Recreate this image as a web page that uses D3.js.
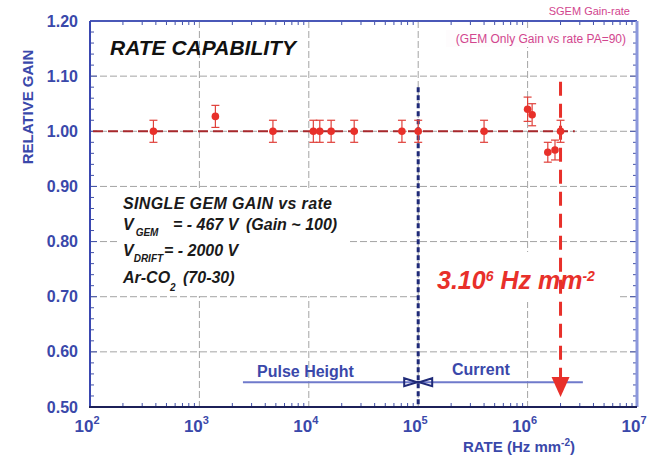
<!DOCTYPE html>
<html>
<head>
<meta charset="utf-8">
<script src="https://cdn.jsdelivr.net/npm/d3@7"></script>
<style>
  html, body { margin: 0; padding: 0; background: #fff; }
  svg { display: block; font-family: "Liberation Sans", Arial, sans-serif; }
</style>
</head>
<body>
<svg id="chart" width="648" height="460"></svg>
<script>
// Measured single-GEM relative gain versus particle rate
const rates  = [380, 1400, 4700, 11000, 12600, 16000, 26000, 71000, 100000, 400000, 1.0e6, 1.1e6, 1.53e6, 1.78e6, 2.0e6];
const gains  = [1.00, 1.027, 1.00, 1.00, 1.00, 1.00, 1.00, 1.00, 1.00, 1.00, 1.04, 1.03, 0.962, 0.966, 1.00];
const errors = [0.02, 0.02, 0.02, 0.02, 0.02, 0.02, 0.02, 0.02, 0.02, 0.02, 0.022, 0.02, 0.018, 0.018, 0.02];

// Axis ticks
const yTicks = [0.5, 0.6, 0.7, 0.8, 0.9, 1.0, 1.1, 1.2];
const xExponents = [2, 3, 4, 5, 6, 7];

// Reference levels and annotations
const unityGain = 1.00;
const unityRange = [1e2, 2.7e6];
const methodBoundary = 1e5;          // pulse height / current crossover
const rateLimit = 2e6;               // rate capability marker
const rateLimitSpan = [1.09, 0.518];
const boundarySpan = [1.08, 0.5];
const methodLineGain = 0.545;
const methodLineRange = [2.5e3, 3.2e6];

const svg = d3.select("#chart");
const x = d3.scaleLog().domain([1e2, 1e7]).range([90, 637]);
const y = d3.scaleLinear().domain([0.5, 1.2]).range([407, 21]);

const blue = "#3a48aa", navy = "#1f2a78", red = "#e8302a", pink = "#d2458e";

// grid
const grid = svg.append("g").attr("stroke", "#a4a4a4").attr("stroke-width", 1).attr("stroke-dasharray", "7,3");
yTicks.filter(v => v > 0.5 && v < 1.2).forEach(v => {
  grid.append("line").attr("x1", x.range()[0]).attr("x2", x.range()[1]).attr("y1", y(v)).attr("y2", y(v));
});
xExponents.filter(e => e > 2 && e < 7).forEach(e => {
  grid.append("line").attr("x1", x(10 ** e)).attr("x2", x(10 ** e)).attr("y1", y.range()[1]).attr("y2", y.range()[0]);
});

// minor ticks on all four sides
const minorX = [];
for (let e = 2; e < 7; e++) for (let m = 2; m <= 9; m++) minorX.push(m * 10 ** e);
const minorY = d3.range(0.52, 1.2, 0.02).filter(v => Math.abs(v * 10 - Math.round(v * 10)) > 1e-6);
const ticks = svg.append("g").attr("stroke", "#4050a8").attr("stroke-width", 1);
minorX.forEach(v => {
  ticks.append("line").attr("x1", x(v)).attr("x2", x(v)).attr("y1", y(1.2)).attr("y2", y(1.2) + 4);
  ticks.append("line").attr("x1", x(v)).attr("x2", x(v)).attr("y1", y(0.5)).attr("y2", y(0.5) - 4);
});
minorY.forEach(v => {
  ticks.append("line").attr("x1", x(1e2)).attr("x2", x(1e2) + 4).attr("y1", y(v)).attr("y2", y(v));
  ticks.append("line").attr("x1", x(1e7)).attr("x2", x(1e7) - 4).attr("y1", y(v)).attr("y2", y(v));
});
yTicks.forEach(v => {
  ticks.append("line").attr("x1", x(1e2)).attr("x2", x(1e2) + 7).attr("y1", y(v)).attr("y2", y(v));
  ticks.append("line").attr("x1", x(1e7)).attr("x2", x(1e7) - 7).attr("y1", y(v)).attr("y2", y(v));
});

// frame
svg.append("line").attr("x1", x(1e2)).attr("x2", x(1e7)).attr("y1", y(1.2)).attr("y2", y(1.2)).attr("stroke", "#4a58b8").attr("stroke-width", 2);
svg.append("line").attr("x1", x(1e7)).attr("x2", x(1e7)).attr("y1", y(1.2)).attr("y2", y(0.5)).attr("stroke", "#8c98dc").attr("stroke-width", 3);
svg.append("line").attr("x1", x(1e2)).attr("x2", x(1e2)).attr("y1", y(1.2)).attr("y2", y(0.5)).attr("stroke", "#3a48b0").attr("stroke-width", 2);
svg.append("line").attr("x1", x(1e2) - 1).attr("x2", x(1e7)).attr("y1", y(0.5)).attr("y2", y(0.5)).attr("stroke", "#1c2058").attr("stroke-width", 2);

// y tick labels
svg.append("g").selectAll("text").data(yTicks).join("text")
  .attr("x", 78).attr("y", d => y(d) + 5.5)
  .attr("text-anchor", "end").attr("font-size", 16).attr("font-weight", "bold").attr("fill", blue)
  .text(d3.format(".2f"));

// x tick labels: powers of ten
const xl = svg.append("g").attr("font-weight", "bold").attr("fill", blue);
xExponents.forEach(e => {
  const t = xl.append("text").attr("x", x(10 ** e) - 3).attr("y", 432).attr("text-anchor", "middle").attr("font-size", 17);
  t.append("tspan").text("10");
  t.append("tspan").attr("font-size", 11).attr("dy", -8).text(e);
});

// axis titles
const xt = svg.append("text").attr("x", 519).attr("y", 452).attr("text-anchor", "middle")
  .attr("font-size", 15).attr("font-weight", "bold").attr("fill", blue);
xt.append("tspan").text("RATE (Hz mm");
xt.append("tspan").attr("font-size", 10).attr("dy", -6).text("-2");
xt.append("tspan").attr("dy", 6).text(")");
svg.append("text").attr("transform", "translate(33,107) rotate(-90)").attr("text-anchor", "middle")
  .attr("font-size", 15).attr("font-weight", "bold").attr("fill", blue).text("RELATIVE GAIN");

// title
svg.append("text").attr("x", 110).attr("y", 55).attr("font-size", 21).attr("font-weight", "bold")
  .attr("font-style", "italic").attr("fill", "#111").text("RATE CAPABILITY");

// top-right labels
svg.append("text").attr("x", 630).attr("y", 15).attr("text-anchor", "end").attr("font-size", 11).attr("fill", pink).text("SGEM Gain-rate");
svg.append("rect").attr("x", 446).attr("y", 30).attr("width", 186).attr("height", 17).attr("fill", "#fefcfd");
svg.append("text").attr("x", 626).attr("y", 43).attr("text-anchor", "end").attr("font-size", 12).attr("fill", pink).text("(GEM Only Gain vs rate PA=90)");

// conditions box
svg.append("rect").attr("x", 120).attr("y", 190).attr("width", 228).attr("height", 106).attr("fill", "#fff");
const cond = svg.append("g").attr("font-size", 16).attr("font-weight", "bold").attr("font-style", "italic").attr("fill", "#1a1a1a");
cond.append("text").attr("x", 123).attr("y", 209).attr("textLength", 209).text("SINGLE GEM GAIN vs rate");
let t = cond.append("text").attr("x", 123).attr("y", 230);
t.append("tspan").text("V");
t.append("tspan").attr("font-size", 10).attr("dy", 6).attr("dx", 2).text("GEM");
t.append("tspan").attr("x", 173).attr("dy", -6).text("= - 467 V");
t.append("tspan").attr("x", 246).text("(Gain ~ 100)");
t = cond.append("text").attr("x", 123).attr("y", 256);
t.append("tspan").text("V");
t.append("tspan").attr("font-size", 10).attr("dy", 6).text("DRIFT");
t.append("tspan").attr("x", 164).attr("dy", -6).text("= - 2000 V");
t = cond.append("text").attr("x", 123).attr("y", 283);
t.append("tspan").text("Ar-CO");
t.append("tspan").attr("font-size", 10).attr("dy", 8).text("2");
t.append("tspan").attr("x", 183).attr("dy", -8).text("(70-30)");

// rate capability label
svg.append("rect").attr("x", 420).attr("y", 252).attr("width", 198).attr("height", 50).attr("fill", "#fff");
const rl = svg.append("text").attr("x", 437).attr("y", 289).attr("font-size", 25).attr("font-weight", "bold")
  .attr("font-style", "italic").attr("fill", red);
rl.append("tspan").text("3.10");
rl.append("tspan").attr("font-size", 14).attr("dy", -8).text("6");
rl.append("tspan").attr("dy", 8).text(" Hz mm");
rl.append("tspan").attr("font-size", 14).attr("dy", -8).text("-2");

// measurement method line
svg.append("line").attr("x1", x(methodLineRange[0])).attr("x2", x(methodLineRange[1]))
  .attr("y1", y(methodLineGain)).attr("y2", y(methodLineGain)).attr("stroke", "#6f7acb").attr("stroke-width", 2);
svg.append("text").attr("x", 257).attr("y", 377).attr("font-size", 16).attr("font-weight", "bold").attr("fill", blue).text("Pulse Height");
svg.append("text").attr("x", 452).attr("y", 375).attr("font-size", 16).attr("font-weight", "bold").attr("fill", blue).text("Current");

// boundary between methods
const xb = x(methodBoundary), ym = y(methodLineGain);
svg.append("line").attr("x1", xb).attr("x2", xb).attr("y1", y(boundarySpan[0])).attr("y2", y(boundarySpan[1]))
  .attr("stroke", navy).attr("stroke-width", 3).attr("stroke-dasharray", "5,3");
svg.append("path").attr("d", `M${xb - 14},${ym - 4}L${xb - 1},${ym}L${xb - 14},${ym + 4}Z M${xb + 14},${ym - 4}L${xb + 1},${ym}L${xb + 14},${ym + 4}Z`)
  .attr("fill", "none").attr("stroke", navy).attr("stroke-width", 2);

// unity-gain reference
svg.append("line").attr("x1", x(unityRange[0]) + 3).attr("x2", x(unityRange[1]))
  .attr("y1", y(unityGain)).attr("y2", y(unityGain))
  .attr("stroke", "#a8282c").attr("stroke-width", 2).attr("stroke-dasharray", "10,5");

// rate limit marker with arrow
const xr = x(rateLimit);
svg.append("line").attr("x1", xr).attr("x2", xr).attr("y1", y(rateLimitSpan[0])).attr("y2", y(rateLimitSpan[1]) - 18)
  .attr("stroke", red).attr("stroke-width", 3).attr("stroke-dasharray", "14,8");
svg.append("path").attr("d", `M${xr - 9},${y(rateLimitSpan[1]) - 20}L${xr + 9},${y(rateLimitSpan[1]) - 20}L${xr},${y(rateLimitSpan[1])}Z`)
  .attr("fill", red);

// data with error bars
const pts = rates.map((r, i) => ({ r, g: gains[i], e: errors[i] }));
const eb = svg.append("g").attr("stroke", "#e0403a").attr("stroke-width", 1.2);
pts.forEach(d => {
  const cx = x(d.r);
  eb.append("line").attr("x1", cx).attr("x2", cx).attr("y1", y(d.g + d.e)).attr("y2", y(d.g - d.e));
  eb.append("line").attr("x1", cx - 4).attr("x2", cx + 4).attr("y1", y(d.g + d.e)).attr("y2", y(d.g + d.e));
  eb.append("line").attr("x1", cx - 4).attr("x2", cx + 4).attr("y1", y(d.g - d.e)).attr("y2", y(d.g - d.e));
});
svg.append("g").selectAll("circle").data(pts).join("circle")
  .attr("cx", d => x(d.r)).attr("cy", d => y(d.g)).attr("r", 3.8).attr("fill", red);
</script>
</body>
</html>
